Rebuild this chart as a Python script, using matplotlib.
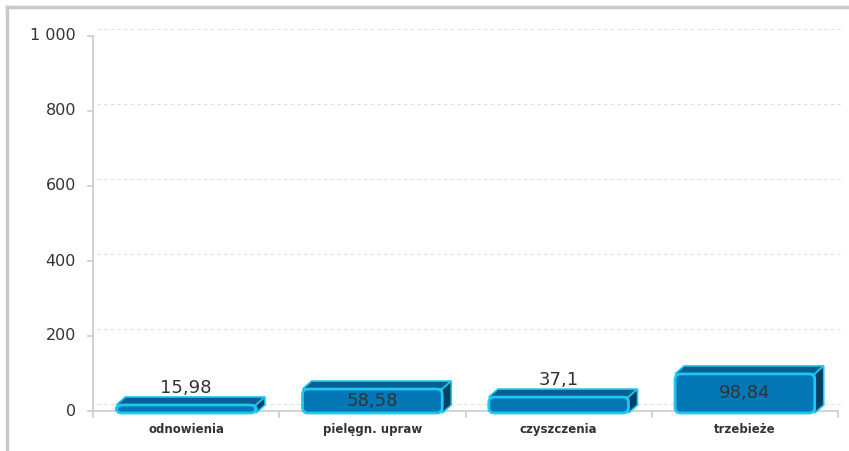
import numpy as np
import matplotlib
matplotlib.use("Agg")
import matplotlib.pyplot as plt
from matplotlib.patches import Polygon, FancyBboxPatch
from matplotlib.lines import Line2D

categories = ["odnowienia", "pielęgn. upraw", "czyszczenia", "trzebieże"]
values = [15.98, 58.58, 37.1, 98.84]
labels = ["15,98", "58,58", "37,1", "98,84"]
yticks = [0, 200, 400, 600, 800, 1000]
ytick_labels = ["0", "200", "400", "600", "800", "1 000"]

W, H = 849, 451
fig = plt.figure(figsize=(W / 100, H / 100), dpi=100)
fig.patch.set_facecolor("white")

# axes box in pixels
left, right, top, bottom = 93, 838, 36, 411
ax = fig.add_axes([left / W, (H - bottom) / H, (right - left) / W, (bottom - top) / H])
ax.set_xlim(0, len(categories))
ax.set_ylim(0, 1000)
for s in ax.spines.values():
    s.set_visible(False)
ax.set_xticks([])
ax.set_yticks([])

# depth of the 3d effect, pixels -> data
px_x = len(categories) / (right - left)
px_y = 1000 / (bottom - top)
dx, dy = 9 * px_x, 8 * px_y
gx, gy = 4 * px_x, 7 * px_y

# back grid
for t in yticks:
    ax.plot([gx, len(categories) + gx], [t + gy, t + gy], color="#dedede",
            lw=0.8, ls=(0, (3, 3)), clip_on=False, zorder=1)

# axis lines
ax.plot([0, 0], [0, 1000], color="#cccccc", lw=1.2, clip_on=False, zorder=2)
ax.plot([0, len(categories)], [0, 0], color="#cccccc", lw=1.2, clip_on=False, zorder=2)
for t, lab in zip(yticks, ytick_labels):
    ax.plot([-5 * px_x, 0], [t, t], color="#cccccc", lw=1.2, clip_on=False)
    ax.text(-17 * px_x, t, lab, ha="right", va="center", fontsize=11.5, color="#333333")
for i in range(len(categories) + 1):
    ax.plot([i, i], [0, -6 * px_y], color="#cccccc", lw=1.2, clip_on=False)
for i, c in enumerate(categories):
    ax.text(i + 0.5, -32, c, ha="center", va="top", fontsize=8.5,
            fontweight="semibold", color="#333333")

front = "#0477b7"
edge = "#1fc6f2"
topc = "#0a5f92"
sidec = "#053f61"
bw = 0.75
ybase = -2 * px_y
for i, v in enumerate(values):
    x0 = i + 0.5 - bw / 2
    x1 = i + 0.5 + bw / 2
    ax.add_patch(Polygon([(x0, v), (x1, v), (x1 + dx, v + dy), (x0 + dx, v + dy)],
                         closed=True, fc=topc, ec=edge, lw=1.2, zorder=3, clip_on=False))
    ax.add_patch(Polygon([(x1, ybase), (x1 + dx, ybase + dy), (x1 + dx, v + dy), (x1, v)],
                         closed=True, fc=sidec, ec=edge, lw=1.2, zorder=3, clip_on=False))
    ax.add_patch(FancyBboxPatch((x0, ybase), bw, v - ybase,
                                boxstyle="round,pad=0,rounding_size=0.03",
                                mutation_aspect=(px_y / px_x),
                                fc=front, ec=edge, lw=2, zorder=4, clip_on=False))
    if (v - ybase) / px_y > 20:
        ax.text(i + 0.5, (v + ybase) / 2, labels[i], ha="center", va="center",
                fontsize=13, color="#333333", zorder=5)
    else:
        ax.text(i + 0.5, v + dy, labels[i], ha="center", va="bottom",
                fontsize=13, color="#333333", zorder=5)

# outer frame (top and left)
fig.add_artist(Line2D([7 / W, 1], [1 - 7 / H, 1 - 7 / H], color="#c8c8c8", lw=2.5))
fig.add_artist(Line2D([7 / W, 7 / W], [0, 1 - 7 / H], color="#c8c8c8", lw=2.5))

fig.savefig("out.png", dpi=100)
